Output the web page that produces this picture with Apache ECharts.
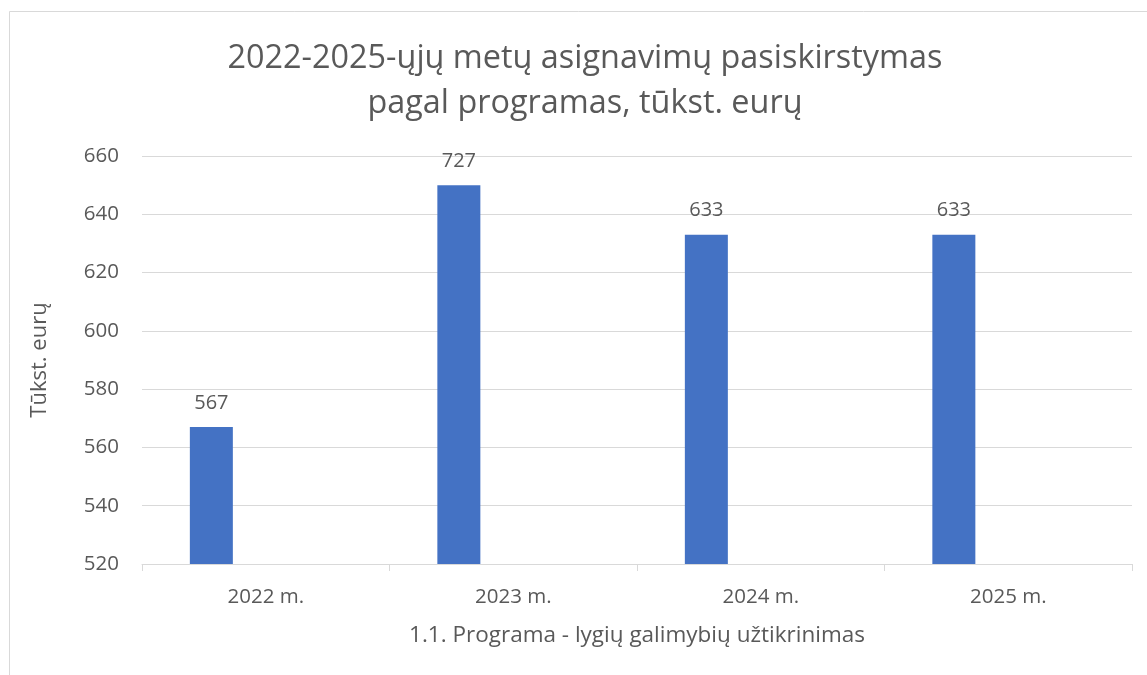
<!DOCTYPE html>
<html>
<head>
<meta charset="utf-8">
<script src="https://cdn.jsdelivr.net/npm/echarts@6/dist/echarts.min.js"></script>
<style>
html,body{margin:0;padding:0;background:#fff;}
#chart{width:1147px;height:675px;}
</style>
</head>
<body>
<div id="chart"></div>
<script>
const categories = ['2022 m.', '2023 m.', '2024 m.', '2025 m.'];
const barValues = [567, 650, 633, 633];
const labelValues = [567, 727, 633, 633];
const yTicks = [520, 540, 560, 580, 600, 620, 640, 660];
const titleText = '2022-2025-ųjų metų asignavimų pasiskirstymas\npagal programas, tūkst. eurų';
const xName = '1.1. Programa - lygių galimybių užtikrinimas';
const yName = 'Tūkst. eurų';

const FONT = 'Open Sans';
const TXT = '#595959';
const chart = echarts.init(document.getElementById('chart'), null, {renderer: 'canvas'});
chart.setOption({
  backgroundColor: '#fff',
  animation: false,
  graphic: [{
    type: 'rect', shape: {x: 9.5, y: 11.5, width: 1160, height: 700},
    style: {fill: 'none', stroke: '#d9d9d9', lineWidth: 1}, silent: true, z: -1
  }],
  title: {
    text: titleText,
    left: 585,
    top: 36,
    textAlign: 'center',
    padding: 0,
    textStyle: {fontFamily: FONT, fontSize: 32.4, fontWeight: 'normal', color: TXT, lineHeight: 45}
  },
  grid: {left: 142, right: 15, top: 156, bottom: 111, containLabel: false},
  xAxis: {
    type: 'category',
    data: categories,
    name: xName,
    nameLocation: 'middle',
    nameGap: 60,
    nameTextStyle: {fontFamily: FONT, fontSize: 22.5, color: TXT},
    axisLine: {lineStyle: {color: '#d9d9d9', width: 1}},
    axisTick: {show: true, length: 7, lineStyle: {color: '#d9d9d9'}},
    axisLabel: {fontFamily: FONT, fontSize: 20.5, color: TXT, margin: 23}
  },
  yAxis: {
    type: 'value',
    min: yTicks[0],
    max: yTicks[yTicks.length - 1],
    interval: 20,
    name: yName,
    nameLocation: 'middle',
    nameGap: 91,
    nameTextStyle: {fontFamily: FONT, fontSize: 22, color: TXT},
    axisLine: {show: false},
    axisTick: {show: false},
    axisLabel: {fontFamily: FONT, fontSize: 20.5, color: TXT, margin: 23},
    splitLine: {lineStyle: {color: '#d9d9d9', width: 1}}
  },
  series: [{
    type: 'bar',
    data: barValues,
    barWidth: 43,
    barGap: '153%',
    itemStyle: {color: '#4472C4'},
    label: {
      show: true, position: 'top', distance: 14,
      fontFamily: FONT, fontSize: 20, color: TXT,
      formatter: p => String(labelValues[p.dataIndex])
    }
  }, {
    type: 'bar',
    data: categories.map(() => null),
    barWidth: 43,
    itemStyle: {color: '#ED7D31'}
  }]
});
</script>
</body>
</html>
